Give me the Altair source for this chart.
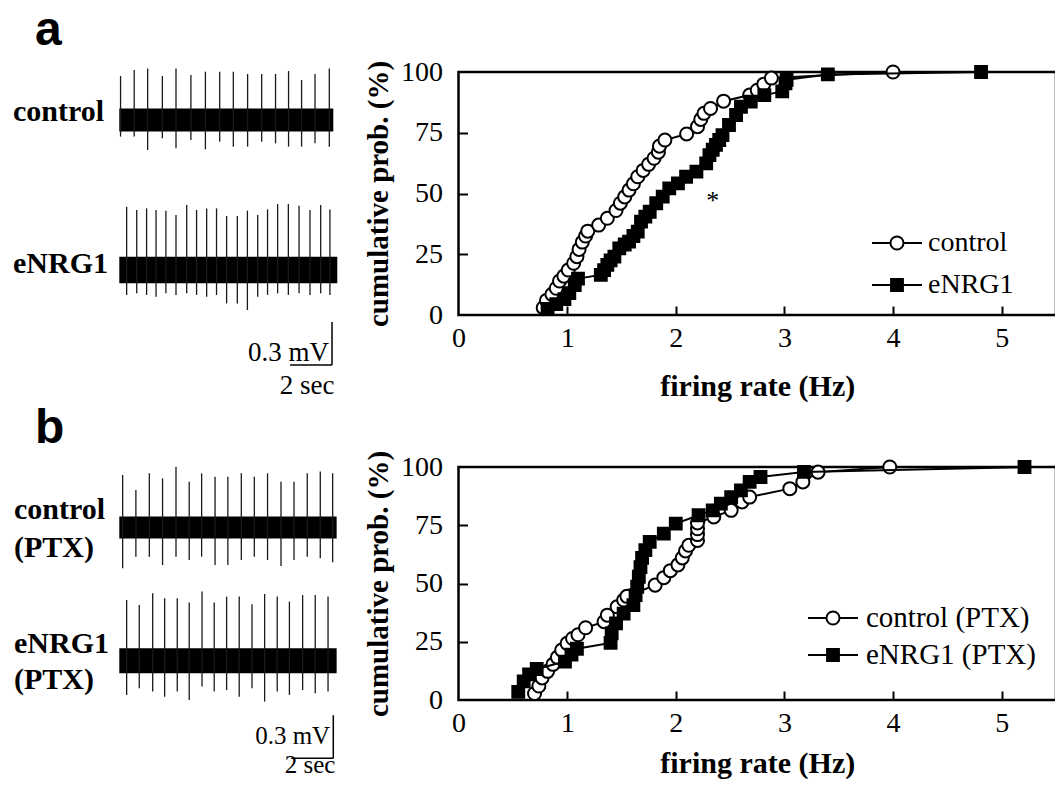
import altair as alt
import pandas as pd

# ---------------- data ----------------
# panel a cumulative distributions (firing rate Hz, cumulative %)
a_ctrl_x = [0.78, 0.81, 0.86, 0.90, 0.93, 0.97, 1.01, 1.06, 1.09, 1.11, 1.14, 1.17, 1.19, 1.29, 1.37,
            1.45, 1.49, 1.53, 1.57, 1.61, 1.65, 1.70, 1.75, 1.80, 1.84, 1.85, 1.90, 2.10, 2.20, 2.23,
            2.26, 2.32, 2.44, 2.68, 2.75, 2.81, 2.88, 4.00]
a_ctrl_y = [3, 6, 8.5, 11, 14, 16, 18.5, 21.3, 24, 27, 30, 32.5, 34.5, 37, 39.8,
            43, 46, 48.6, 51.4, 54, 56.9, 59.5, 62, 64.5, 67, 69.5, 72, 74.5, 77.5, 80.5,
            83, 85, 88, 90.5, 92.5, 95, 97.5, 100]
a_nrg_x = [0.82, 0.90, 0.975, 1.02, 1.07, 1.10, 1.31, 1.34, 1.37, 1.40, 1.435, 1.48, 1.53, 1.57, 1.61,
           1.65, 1.68, 1.72, 1.76, 1.82, 1.88, 1.94, 2.02, 2.095, 2.19, 2.28, 2.31, 2.34, 2.37, 2.40,
           2.43, 2.49, 2.555, 2.60, 2.69, 2.815, 2.98, 3.01, 3.02, 3.40, 4.81]
a_nrg_y = [2.5, 4.5, 6.5, 9, 12.3, 15, 16.5, 18.5, 20.6, 22.5, 24, 27.4, 29, 30.2, 32.5,
           34.3, 38.4, 40.5, 42.5, 46, 48.7, 52.1, 54.2, 56.9, 59, 62.4, 65.8, 68, 70, 72,
           74, 78.2, 82.3, 85.7, 87.8, 90.5, 92, 95.3, 96.8, 99, 100]

# panel b
b_ctrl_x = [0.70, 0.74, 0.77, 0.82, 0.87, 0.91, 0.95, 1.00, 1.05, 1.10, 1.17, 1.34, 1.37, 1.46, 1.52,
            1.55, 1.81, 1.89, 1.95, 2.02, 2.06, 2.09, 2.12, 2.20, 2.20, 2.20, 2.20, 2.35, 2.51, 2.61,
            2.68, 3.05, 3.17, 3.31, 3.97]
b_ctrl_y = [2.8, 6, 9.5, 12.3, 15.3, 18.3, 21.4, 24.3, 26.4, 28, 31, 33.6, 36.4, 40, 42.9,
            44.5, 49.3, 52.5, 55.5, 58, 61, 64, 66.4, 68.5, 71, 73.5, 76, 78.6, 81.4, 85,
            87.1, 90.7, 93.6, 97.8, 100]
b_nrg_x = [0.55, 0.60, 0.65, 0.72, 0.98, 1.04, 1.09, 1.40, 1.41, 1.45, 1.52, 1.61, 1.63, 1.645, 1.66,
           1.675, 1.69, 1.72, 1.76, 1.89, 2.00, 2.21, 2.34, 2.415, 2.51, 2.60, 2.68, 2.78, 3.18, 5.21]
b_nrg_y = [3.5, 8, 11, 13.3, 16.5, 19.5, 22, 24.5, 28.6, 32.9, 37.1, 40.7, 45, 48.6, 52.9,
           57, 61, 64.3, 67.9, 71.4, 75.7, 79.3, 81.4, 84.3, 87.1, 90, 93.6, 95.7, 97.9, 100]

x_ticks = [0, 1, 2, 3, 4, 5]
y_ticks = [0, 25, 50, 75, 100]
x_title = "firing rate (Hz)"
y_title = "cumulative prob. (%)"
legend_a = ["control", "eNRG1"]
legend_b = ["control (PTX)", "eNRG1 (PTX)"]
star_x, star_y = [2.34], [47]

# example traces: spike time (s), spike peak (mV), spike trough (mV)
a_ctrl_t = [.06, .71, 1.35, 2.05, 2.70, 3.41, 4.10, 4.78, 5.43, 6.11, 6.78, 7.44, 8.06, 8.68, 9.32, 10.0]
a_ctrl_top = [.307, .349, .36, .307, .36, .314, .337, .337, .337, .321, .321, .321, .342, .279, .321, .36]
a_ctrl_bot = [-.116, -.116, -.209, -.128, -.198, -.14, -.205, -.151, -.186, -.186, -.151, -.163, -.186, -.186, -.163, -.186]
a_nrg_t = [.35, .83, 1.30, 1.75, 2.22, 2.70, 3.21, 3.68, 4.16, 4.63, 5.11, 5.62, 6.10, 6.59, 7.06, 7.54, 8.05, 8.56, 9.08, 9.59, 10.03]
a_nrg_top = [.442, .419, .43, .419, .414, .384, .454, .419, .43, .43, .377, .377, .414, .384, .423, .46, .46, .449, .419, .454, .423]
a_nrg_bot = [-.174, -.163, -.174, -.186, -.163, -.174, -.163, -.174, -.186, -.174, -.233, -.233, -.279, -.186, -.174, -.163, -.174, -.163, -.174, -.163, -.174]
b_ctrl_t = [.16, .79, 1.43, 2.06, 2.70, 3.33, 3.92, 4.56, 5.17, 5.81, 6.43, 7.06, 7.70, 8.32, 8.95, 9.57, 10.16]
b_ctrl_top = [.366, .262, .378, .343, .424, .32, .378, .355, .355, .378, .355, .378, .32, .32, .378, .39, .378]
b_ctrl_bot = [-.285, -.204, -.204, -.262, -.204, -.227, -.204, -.262, -.262, -.227, -.204, -.227, -.269, -.227, -.204, -.215, -.243]
b_nrg_t = [.35, .95, 1.59, 2.16, 2.76, 3.33, 3.94, 4.52, 5.11, 5.71, 6.32, 6.92, 7.52, 8.10, 8.73, 9.33, 9.94]
b_nrg_top = [.424, .39, .471, .436, .436, .406, .483, .406, .448, .448, .394, .466, .448, .413, .459, .459, .448]
b_nrg_bot = [-.238, -.192, -.215, -.25, -.215, -.273, -.18, -.215, -.204, -.25, -.192, -.285, -.215, -.238, -.204, -.227, -.215]
# noise band: duration (s), half-amplitude (mV)
band_end = {"a_ctrl": 10.19, "a_nrg": 10.38, "b_ctrl": 10.35, "b_nrg": 10.35}
band_half = {"a_ctrl": .081, "a_nrg": .093, "b_ctrl": .076, "b_nrg": .087}
# scale bars: 2 sec, 0.3 mV
bar_sec, bar_mv = 2.0, 0.3

# ---------------- layout ----------------
SERIF = "Liberation Serif"
W, H = 1047, 772
XR = [450.5, 1048.0]
YR = {"a": [307.0, 64.0], "b": [692.0, 459.0]}
XTITLE_Y = {"a": 80, "b": 72}
XDOM = [0, 5.5]
YDOM = [0, 100]
PX_S = 21.0       # px per second
PX_MV = 143.3     # px per mV
T0 = 111.3
TRACE_CENTER = {"a_ctrl": 112.0, "a_nrg": 262.0, "b_ctrl": 519.5, "b_nrg": 652.8}

layers = []


def sx():
    return alt.Scale(domain=XDOM, range=XR, nice=False, zero=False)


def sy(p):
    return alt.Scale(domain=YDOM, range=YR[p], nice=False, zero=False)


def panel(p, cx, cy, nx, ny, leg, leg_pos, with_star):
    yr = YR[p]
    frame = pd.DataFrame({"x0": [XDOM[0]], "x1": [XDOM[1]], "y0": [YDOM[0]], "y1": [YDOM[1]]})
    layers.append(alt.Chart(frame).mark_rect(fillOpacity=0, stroke="black", strokeWidth=2.5).encode(
        x=alt.X("x0:Q", scale=sx(), axis=alt.Axis(orient="top", offset=-yr[0], values=x_ticks[1:],
                domain=False, labels=False, ticks=True, tickSize=9, tickWidth=2, tickColor="black",
                grid=False, title=None)),
        x2="x1:Q",
        y=alt.Y("y0:Q", scale=sy(p), axis=alt.Axis(orient="right", offset=XR[0] - W, values=y_ticks[1:-1],
                domain=False, labels=False, ticks=True, tickSize=9, tickWidth=2, tickColor="black",
                grid=False, title=None)),
        y2="y1:Q"))

    xa = alt.Axis(orient="bottom", offset=yr[0] - H, values=x_ticks, domain=False, ticks=False, grid=False,
                  labelFont=SERIF, labelFontSize=28, labelColor="black", labelPadding=9,
                  labelFlush=False, labelOverlap=False,
                  title=x_title, titleFont=SERIF, titleFontSize=30, titleFontWeight="bold",
                  titleColor="black", titleY=XTITLE_Y[p], titleBaseline="alphabetic")
    ya = alt.Axis(orient="left", offset=-XR[0], values=y_ticks, domain=False, ticks=False, grid=False,
                  labelFont=SERIF, labelFontSize=28, labelColor="black", labelPadding=16,
                  labelOverlap=False,
                  title=y_title, titleFont=SERIF, titleFontSize=29, titleFontWeight="bold",
                  titleColor="black", titleX=-80.5, titleBaseline="middle", titleAngle=270,
                  titleAlign="center")

    def series(x, y, shape, fill, size, axx, axy):
        df = pd.DataFrame({"x": x, "y": y, "k": list(range(len(x)))})
        return alt.Chart(df).mark_line(
            color="black", strokeWidth=2,
            point=alt.OverlayMarkDef(shape=shape, size=size, filled=True, fill=fill, stroke="black",
                                     strokeWidth=2, opacity=1)
        ).encode(x=alt.X("x:Q", scale=sx(), axis=axx), y=alt.Y("y:Q", scale=sy(p), axis=axy),
                 order="k:Q")

    layers.append(series(cx, cy, "circle", "white", 170, xa, ya))
    layers.append(series(nx, ny, "square", "black", 140, None, None))

    if with_star:
        sdf = pd.DataFrame({"x": star_x, "y": star_y, "t": ["*"]})
        layers.append(alt.Chart(sdf).mark_text(font=SERIF, fontSize=26, color="black").encode(
            x=alt.X("x:Q", scale=sx(), axis=None), y=alt.Y("y:Q", scale=sy(p), axis=None), text="t:N"))

    (lx0, lx1, mx, tx, rows, fs) = leg_pos
    for lab, ry, shape, fill in zip(leg, rows, ["circle", "square"], ["white", "black"]):
        d = pd.DataFrame({"label": [lab]})
        layers.append(alt.Chart(d).mark_rule(color="black", strokeWidth=2).encode(
            x=alt.value(lx0), x2=alt.value(lx1), y=alt.value(ry)))
        layers.append(alt.Chart(d).mark_point(shape=shape, size=170 if shape == "circle" else 140,
                                              filled=True, fill=fill, stroke="black", strokeWidth=2,
                                              opacity=1).encode(
            x=alt.value(mx), y=alt.value(ry)))
        layers.append(alt.Chart(d).mark_text(font=SERIF, fontSize=fs, align="left", baseline="middle",
                                             color="black").encode(
            x=alt.value(tx), y=alt.value(ry), text="label:N"))


def tscale():
    return alt.Scale(domain=[0, 10.4], range=[T0, T0 + PX_S * 10.4], nice=False, zero=False)


def vscale(key):
    c = TRACE_CENTER[key]
    return alt.Scale(domain=[-1, 1], range=[c + PX_MV, c - PX_MV], nice=False, zero=False)


def trace(key, t, top, bot):
    band = pd.DataFrame({"t0": [0], "t1": [band_end[key]], "v0": [-band_half[key]], "v1": [band_half[key]]})
    layers.append(alt.Chart(band).mark_rect(color="black").encode(
        x=alt.X("t0:Q", scale=tscale(), axis=None), x2="t1:Q",
        y=alt.Y("v0:Q", scale=vscale(key), axis=None), y2="v1:Q"))
    sp = pd.DataFrame({"t": t, "top": top, "bot": bot})
    layers.append(alt.Chart(sp).mark_rule(color="#1a1a1a", strokeWidth=1.3).encode(
        x=alt.X("t:Q", scale=tscale(), axis=None),
        y=alt.Y("bot:Q", scale=vscale(key), axis=None), y2="top:Q"))


def scalebar(key, t_end, v_bot, mv_dv, sec_dv, sec_dt, fs):
    d = pd.DataFrame({"t0": [t_end - bar_sec], "t1": [t_end], "v0": [v_bot], "v1": [v_bot + bar_mv]})
    layers.append(alt.Chart(d).mark_rule(color="black", strokeWidth=1.5).encode(
        x=alt.X("t0:Q", scale=tscale(), axis=None), x2="t1:Q",
        y=alt.Y("v0:Q", scale=vscale(key), axis=None)))
    layers.append(alt.Chart(d).mark_rule(color="black", strokeWidth=1.5).encode(
        x=alt.X("t1:Q", scale=tscale(), axis=None),
        y=alt.Y("v0:Q", scale=vscale(key), axis=None), y2="v1:Q"))
    lab = pd.DataFrame({"t": [t_end - 0.15, t_end - sec_dt], "v": [v_bot + mv_dv, v_bot - sec_dv],
                        "txt": ["0.3 mV", "2 sec"]})
    layers.append(alt.Chart(lab.iloc[[0]]).mark_text(font=SERIF, fontSize=fs, align="right",
                                                     baseline="alphabetic", color="black").encode(
        x=alt.X("t:Q", scale=tscale(), axis=None), y=alt.Y("v:Q", scale=vscale(key), axis=None), text="txt:N"))
    layers.append(alt.Chart(lab.iloc[[1]]).mark_text(font=SERIF, fontSize=fs, align="center",
                                                     baseline="alphabetic", color="black").encode(
        x=alt.X("t:Q", scale=tscale(), axis=None), y=alt.Y("v:Q", scale=vscale(key), axis=None), text="txt:N"))


def label(txt, x, y, size, font=SERIF, weight="bold"):
    d = pd.DataFrame({"label": [txt]})
    layers.append(alt.Chart(d).mark_text(font=font, fontSize=size, fontWeight=weight, align="left",
                                         baseline="alphabetic", color="black").encode(
        x=alt.value(x), y=alt.value(y), text="label:N"))


# panels
panel("a", a_ctrl_x, a_ctrl_y, a_nrg_x, a_nrg_y, legend_a, (864, 914, 889, 920, [235, 277], 28), True)
panel("b", b_ctrl_x, b_ctrl_y, b_nrg_x, b_nrg_y, legend_b, (800, 850, 825, 858, [610, 647], 29), False)

# traces
trace("a_ctrl", a_ctrl_t, a_ctrl_top, a_ctrl_bot)
trace("a_nrg", a_nrg_t, a_nrg_top, a_nrg_bot)
trace("b_ctrl", b_ctrl_t, b_ctrl_top, b_ctrl_bot)
trace("b_nrg", b_nrg_t, b_nrg_top, b_nrg_bot)
scalebar("a_nrg", 10.13, -0.663, 0.028, 0.20, 1.19, 27)
scalebar("b_nrg", 10.19, -0.68, 0.10, 0.10, 1.11, 25)

# text labels
label("a", 27, 37, 48, font="Liberation Sans")
label("b", 27, 435, 48, font="Liberation Sans")
label("control", 5, 113, 30)
label("eNRG1", 5, 265, 30)
label("control", 6, 511, 30)
label("(PTX)", 6, 549, 30)
label("eNRG1", 6, 645, 30)
label("(PTX)", 6, 681, 30)

chart = alt.layer(*layers).resolve_scale(x="independent", y="independent").properties(
    width=W, height=H, autosize=alt.AutoSizeParams(type="none"), padding=0
).configure_view(stroke=None)

chart.save("out.html", embed_options={"renderer": "svg", "actions": False})
